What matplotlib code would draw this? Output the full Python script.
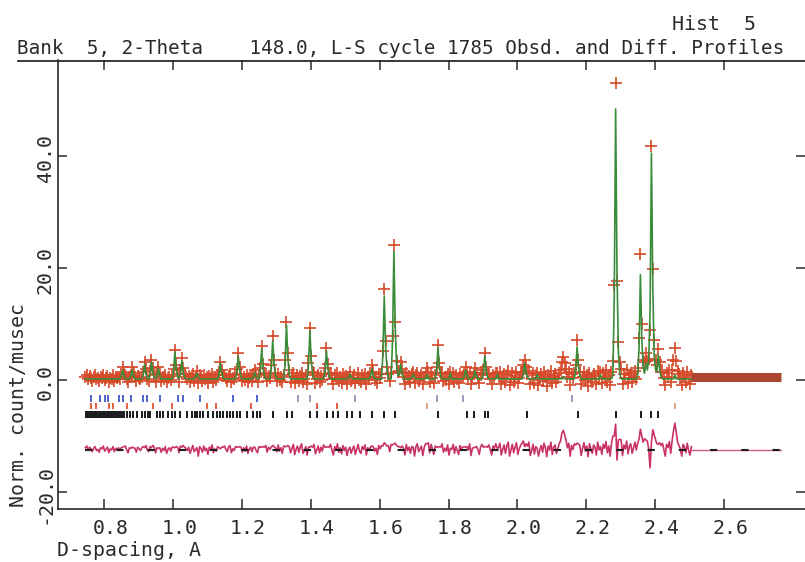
import numpy as np
import matplotlib
matplotlib.use("Agg")
import matplotlib.pyplot as plt
import matplotlib.transforms as mtransforms
from matplotlib.lines import Line2D

# ---------------- data ----------------
D_START = 0.745      # first observed point (d-spacing, A)
D_STEP = 0.004       # spacing of the observed points

# observed background points (Norm. count/musec), 0.1 A per row
obs_counts = [
    0.6, 0.9, 0.2, 0.7, 0.4, -0.1, 0.5, 0.8, 0.1, 0.3, -0.2, 0.6, 0.4, 0.9, 0.0, 0.3, 0.7, -0.3, 0.4, 0.2, 0.8, -0.1, 0.5, 0.3, 0.6,
    0.1, 0.7, -0.2, 0.4, 0.9, 0.2, -0.3, 0.6, 0.3, 0.8, 0.0, 0.5, -0.2, 0.7, 0.4, 0.1, 0.6, -0.4, 0.3, 0.8, 0.2, -0.1, 0.5, 0.9, 0.0,
    0.4, -0.3, 0.7, 0.2, 0.9, -0.2, 0.5, 0.1, 0.8, -0.4, 0.3, 0.6, 0.0, 0.7, -0.1, 0.4, 1.0, 0.2, -0.3, 0.6, 0.3, 0.9, -0.2, 0.5, 0.1,
    0.7, -0.4, 0.3, 1.0, -0.1, 0.6, 0.2, -0.5, 0.8, 0.4, -0.2, 0.9, 0.1, 0.5, -0.6, 0.7, 0.3, 1.1, -0.3, 0.4, 0.0, 0.8, -0.4, 0.6, 0.2,
    -0.5, 0.9, 0.3, -0.1, 0.7, 1.0, -0.3, 0.4, 0.1, 0.8, -0.6, 0.5, 0.2, 1.1, -0.2, 0.6, 0.0, 0.9, -0.4, 0.3, 0.7, -0.1, 1.0, 0.2, 0.5,
    -0.3, 0.8, 0.1, 0.6, -0.5, 0.4, 1.0, -0.2, 0.7, 0.3, -0.6, 0.9, 0.2, 0.5, -0.1, 1.1, 0.0, 0.6, -0.4, 0.8, 0.3, -0.2, 0.7, 1.0, -0.3,
    0.5, 1.2, -0.6, 0.3, 0.9, -0.2, 0.7, 1.3, -0.4, 0.1, 0.8, -0.7, 0.6, 1.0, -0.1, 0.4, 1.2, -0.5, 0.2, 0.9, -0.3, 0.7, 0.0, 1.1, -0.6,
    0.4, 0.9, -0.4, 1.2, 0.2, -0.7, 0.8, 0.3, 1.3, -0.2, 0.6, -0.5, 1.0, 0.1, 0.7, -0.8, 0.5, 1.1, -0.1, 0.4, 0.9, -0.6, 0.3, 1.2, 0.0,
    -0.4, 0.8, 0.3, 1.1, -0.7, 0.6, 0.2, 1.3, -0.3, 0.9, 0.0, 0.5, -0.6, 1.0, 0.4, -0.2, 1.2, 0.7, -0.5, 0.3, 1.0, -0.1, 0.6, 1.2, 0.0,
    0.8, -0.5, 1.1, 0.3, -0.2, 0.9, 0.5, -0.7, 1.2, 0.1, 0.7, -0.4, 1.0, 0.2, -0.6, 0.8, 1.3, -0.1, 0.4, 0.9, -0.8, 0.6, 1.1, 0.0, 0.5,
    -0.3, 1.2, 0.4, -0.6, 0.9, 0.2, 1.0, -0.5, 0.7, 1.3, -0.2, 0.5, 0.0, 1.1, -0.7, 0.6, 0.3, 1.2, -0.4, 0.8, 0.1, -0.6, 1.0, 0.4, 0.7,
    1.1, -0.4, 0.6, 0.2, 1.3, -0.8, 0.5, 0.9, -0.2, 1.0, 0.3, -0.6, 0.8, 1.2, -0.1, 0.4, 0.7, -0.5, 1.1, 0.2, -0.7, 0.9, 0.5, 1.3, -0.3,
    0.6, 1.4, -0.7, 0.3, 1.1, -0.4, 0.9, 1.6, -0.9, 0.2, 1.2, -0.3, 0.7, 1.5, -0.6, 0.4, 1.0, -1.0, 0.8, 1.3, -0.2, 0.5, 1.6, -0.8, 0.1,
    1.2, -0.5, 0.8, 1.5, -0.9, 0.3, 1.0, -0.2, 1.4, 0.6, -1.0, 0.9, 0.2, 1.6, -0.6, 0.7, 1.1, -0.4, 0.4, 1.3, -0.8, 0.9, 0.1, 1.5, -0.3,
    0.6, 1.4, -0.9, 1.0, 0.3, -0.5, 1.6, 0.8, -0.2, 1.2, -0.8, 0.5, 1.5, 0.0, 0.9, -1.0, 1.3, 0.4, -0.4, 1.1, 0.7, -0.7, 1.6, 0.2, 0.8,
    -0.6, 1.2, 0.5, 1.7, -0.3, 0.9, -0.9, 1.4, 0.6, 1.0, 0.3, 1.2, -0.2, 1.5, 0.7, -0.8, 1.1, 0.4, 1.8, -0.5, 0.9, 1.3, -0.4, 0.6, 1.6,
    0.2, -0.7, 1.4, 0.8, 0.1, 1.2, -0.6, 1.0, 1.6, -0.2, 0.7, 1.3, 0.0, 0.9, -0.8, 1.5, 0.4, 1.1, -0.5, 1.4, 0.3, -0.9, 1.2, 0.6, 1.7,
    -0.4, 0.9, 1.3, 0.2, 1.5, -0.6, 1.0, 0.4, -0.9, 1.2, 0.7, -0.3, 1.4, 0.1, -0.7, 0.8,
]

# observed points on the Bragg peaks (d, value)
obs_peak_d = [
    0.849, 0.853, 0.857, 0.877, 0.881, 0.885, 0.913, 0.917, 0.921,
    0.933, 0.937, 0.941, 0.945, 0.953, 0.957, 0.961,
    1.001, 1.005, 1.009, 1.013, 1.021, 1.025, 1.029, 1.033, 1.069,
    1.133, 1.137, 1.141, 1.145, 1.185, 1.189, 1.193, 1.197, 1.237,
    1.253, 1.257, 1.261, 1.265, 1.285, 1.289, 1.293, 1.297,
    1.321, 1.325, 1.329, 1.333, 1.337, 1.393, 1.397, 1.401, 1.405,
    1.441, 1.445, 1.449, 1.453, 1.513, 1.573, 1.577, 1.581,
    1.605, 1.609, 1.613, 1.617, 1.621, 1.633, 1.637, 1.641, 1.645, 1.649, 1.653,
    1.657, 1.661, 1.665, 1.697, 1.733, 1.737, 1.741,
    1.765, 1.769, 1.773, 1.777, 1.805, 1.845, 1.849, 1.853, 1.873, 1.877, 1.881,
    1.901, 1.905, 1.909, 1.913, 1.941,
    2.013, 2.017, 2.021, 2.025, 2.029, 2.057,
    2.125, 2.129, 2.133, 2.137, 2.141, 2.165, 2.169, 2.173, 2.177, 2.181, 2.241,
    2.273, 2.277, 2.281, 2.285, 2.289, 2.293, 2.297, 2.301,
    2.349, 2.353, 2.357, 2.361, 2.365, 2.369, 2.373,
    2.377, 2.381, 2.385, 2.389, 2.393, 2.397, 2.401,
    2.405, 2.409, 2.413, 2.417, 2.449, 2.453, 2.457, 2.461, 2.465,
]
obs_peak_v = [
    1.0, 2.3, 1.4, 0.9, 2.3, 1.2, 1.5, 3.2, 2.0,
    1.6, 3.6, 2.2, 0.9, 1.1, 2.3, 1.3,
    2.0, 5.4, 2.6, 1.1, 1.8, 3.9, 2.2, 1.0, 1.6,
    1.4, 3.2, 1.8, 0.9, 1.9, 4.8, 2.4, 1.1, 1.8,
    2.1, 6.0, 2.9, 1.2, 2.6, 7.8, 3.5, 1.3,
    0.9, 3.5, 10.4, 4.8, 1.7, 3.1, 9.3, 4.3, 1.5,
    2.1, 5.7, 2.8, 1.1, 1.5, 1.2, 2.7, 1.5,
    1.0, 5.2, 16.3, 7.0, 2.4, 1.2, 7.8, 24.1, 10.4, 3.4, 1.4,
    1.6, 3.2, 1.9, 1.5, 1.3, 2.1, 1.5,
    2.3, 6.3, 3.0, 1.2, 1.5, 1.2, 2.3, 1.4, 1.0, 2.1, 1.3,
    1.8, 4.8, 2.4, 1.0, 1.3,
    1.4, 2.6, 3.6, 2.4, 1.2, 1.3,
    1.8, 3.2, 4.1, 3.0, 1.9, 1.3, 2.7, 7.1, 3.6, 1.5, 1.5,
    1.4, 3.4, 17.0, 53.0, 17.6, 6.8, 3.2, 2.0,
    2.2, 7.5, 22.5, 10.0, 3.6, 3.2, 4.8,
    3.4, 3.8, 9.0, 41.8, 19.8, 7.2, 3.6,
    2.6, 5.5, 3.2, 1.4, 1.8, 3.6, 5.7, 3.4, 1.6,
]

# calculated profile: flat background plus peak points (d, value)
calc_background = 0.2
calc_peak_d = [
    0.849, 0.853, 0.857, 0.877, 0.881, 0.885, 0.913, 0.917, 0.921,
    0.933, 0.937, 0.941, 0.945, 0.953, 0.957, 0.961,
    1.001, 1.005, 1.009, 1.013, 1.021, 1.025, 1.029, 1.033,
    1.065, 1.069, 1.073, 1.133, 1.137, 1.141, 1.145,
    1.185, 1.189, 1.193, 1.197, 1.233, 1.237, 1.241,
    1.253, 1.257, 1.261, 1.265, 1.285, 1.289, 1.293, 1.297,
    1.325, 1.329, 1.333, 1.337, 1.393, 1.397, 1.401, 1.405,
    1.441, 1.445, 1.449, 1.453, 1.509, 1.513, 1.517, 1.573, 1.577, 1.581,
    1.609, 1.613, 1.617, 1.621, 1.637, 1.641, 1.645, 1.649, 1.653,
    1.657, 1.661, 1.665, 1.693, 1.697, 1.701, 1.737,
    1.765, 1.769, 1.773, 1.777, 1.805, 1.845, 1.849, 1.853, 1.873, 1.877, 1.881,
    1.901, 1.905, 1.909, 1.913, 1.941,
    2.017, 2.021, 2.025, 2.029, 2.057, 2.133,
    2.169, 2.173, 2.177, 2.181, 2.241,
    2.277, 2.281, 2.285, 2.289, 2.293, 2.297,
    2.349, 2.353, 2.357, 2.361, 2.365, 2.369, 2.373,
    2.377, 2.381, 2.385, 2.389, 2.393, 2.397, 2.401,
    2.405, 2.409, 2.413, 2.417, 2.457,
]
calc_peak_v = [
    0.6, 1.8, 0.8, 0.6, 1.8, 0.8, 0.9, 2.8, 1.2,
    1.0, 3.2, 1.4, 0.4, 0.7, 2.0, 0.9,
    1.5, 5.0, 2.0, 0.6, 1.1, 3.4, 1.4, 0.5,
    0.5, 1.2, 0.6, 1.0, 3.0, 1.3, 0.4,
    1.4, 4.3, 1.8, 0.6, 0.5, 1.3, 0.6,
    1.6, 5.5, 2.3, 0.7, 2.1, 7.0, 2.9, 0.9,
    2.9, 9.8, 4.0, 1.1, 2.6, 8.8, 3.6, 1.0,
    1.6, 5.2, 2.2, 0.6, 0.4, 1.0, 0.5, 0.7, 2.0, 0.9,
    4.5, 15.0, 6.0, 1.7, 6.9, 23.0, 9.2, 2.6, 0.8,
    1.0, 2.8, 1.2, 0.4, 1.0, 0.5, 1.0,
    1.8, 5.8, 2.4, 0.7, 1.2, 0.6, 1.8, 0.8, 0.6, 1.6, 0.7,
    1.3, 4.2, 1.8, 0.5, 1.0,
    1.0, 3.0, 1.3, 0.5, 1.0, 0.6,
    1.8, 5.9, 2.5, 0.7, 0.9,
    0.9, 14.5, 48.4, 19.4, 5.0, 1.3,
    1.0, 5.6, 18.8, 7.5, 2.2, 1.2, 3.0,
    1.8, 3.6, 12.2, 40.5, 16.2, 4.5, 1.8,
    1.5, 4.5, 1.9, 0.6, 0.9,
]

# excluded high-d region (drawn as a smooth band) and difference offset
excluded_d = [2.505, 2.765]
excluded_v = [0.45, 0.45]
diff_offset = -12.5

# reflection markers of the three phases (d-spacing)
phase_blue_d = [0.760, 0.788, 0.802, 0.811, 0.843, 0.854, 0.878, 0.912, 0.924, 0.962,
                1.014, 1.029, 1.078, 1.174, 1.243]
phase_blue_faint_d = [1.362, 1.397, 1.528, 1.766, 1.842, 2.158]
phase_red_d = [0.760, 0.776, 0.814, 0.825, 0.866, 0.941, 0.997, 1.098, 1.124, 1.226,
               1.418, 1.476]
phase_red_faint_d = [1.737, 2.457]
phase_black_d = [0.747, 0.751, 0.754, 0.758, 0.762, 0.765, 0.769, 0.773, 0.776, 0.780,
                 0.784, 0.788, 0.791, 0.795, 0.799, 0.803, 0.807, 0.811, 0.815, 0.819,
                 0.823, 0.828, 0.832, 0.837, 0.841, 0.846, 0.851, 0.856,
                 0.865, 0.875, 0.884, 0.894, 0.909, 0.918, 0.928, 0.933, 0.952, 0.962,
                 0.971, 0.986, 0.996, 1.005, 1.020, 1.039, 1.054, 1.063, 1.068, 1.078,
                 1.088, 1.102, 1.117, 1.126, 1.136, 1.146, 1.155, 1.165, 1.175, 1.185,
                 1.194, 1.214, 1.233, 1.243, 1.252, 1.291, 1.330, 1.344, 1.397, 1.417,
                 1.446, 1.465, 1.480, 1.504, 1.519, 1.543, 1.577, 1.613, 1.643, 1.770,
                 1.853, 1.874, 1.906, 1.914, 2.028, 2.176, 2.286, 2.359, 2.389, 2.408]

x_ticks = [0.8, 1.0, 1.2, 1.4, 1.6, 1.8, 2.0, 2.2, 2.4, 2.6]
x_tick_labels = ["0.8", "1.0", "1.2", "1.4", "1.6", "1.8", "2.0", "2.2", "2.4", "2.6"]
y_ticks = [40.0, 20.0, 0.0, -20.0]
y_tick_labels = ["40.0", "20.0", "0.0", "-20.0"]

title_text = "Bank  5, 2-Theta    148.0, L-S cycle 1785 Obsd. and Diff. Profiles"
hist_text = "Hist  5"
xlabel_text = "D-spacing, A"
ylabel_text = "Norm. count/musec"

# ---------------- figure ----------------
W, H = 805, 562
fig = plt.figure(figsize=(W / 100, H / 100), dpi=100)
fig.patch.set_facecolor("white")
INK = "#2a2a2a"
FONT = "DejaVu Sans Mono"
FS = 14.3


def fx(x):
    return x / W


def fy(y):
    return 1 - y / H


ax = fig.add_axes([fx(58), fy(509), fx(805) - fx(58), fy(60) - fy(509)])
ax.set_xlim(0.6655, 2.835)
ax.set_ylim(-23.04, 57.14)
ax.set_facecolor("none")

n = len(obs_counts)
d = D_START + D_STEP * np.arange(n)


def grid_index(vals):
    return np.rint((np.asarray(vals) - D_START) / D_STEP).astype(int)


obs = np.array(obs_counts, dtype=float)
obs[grid_index(obs_peak_d)] = obs_peak_v
calc = np.full(n, calc_background)
calc[grid_index(calc_peak_d)] = calc_peak_v
diff = obs - calc + diff_offset

# observed points
ax.plot(d, obs, linestyle="none", marker="+", ms=8, mew=1.2,
        color="#d6492a", zorder=2)
# excluded region
ax.plot(excluded_d, excluded_v, color="#ad4630", lw=6.5,
        solid_capstyle="butt", zorder=2)
# calculated profile
ax.plot(d, calc, color="#3a8c3a", lw=1.2, zorder=3)

# difference curve
ax.plot(d, diff, color="#c93369", lw=1.2, zorder=2)
ax.plot(excluded_d, [diff_offset, diff_offset], color="#d05c86", lw=1.0, zorder=2)
ax.plot([D_START, excluded_d[1]], [diff_offset, diff_offset], color="#1e1e1e",
        lw=1.5, dashes=(3.5, 11.5), zorder=3)

# reflection markers
ax.vlines(phase_blue_d, -3.9, -2.7, color="#4058c8", lw=1.3, zorder=3)
ax.vlines(phase_blue_faint_d, -3.9, -2.7, color="#8d94b5", lw=1.3, zorder=3)
ax.vlines(phase_red_d, -5.2, -4.1, color="#e4532f", lw=1.3, zorder=3)
ax.vlines(phase_red_faint_d, -5.2, -4.1, color="#e39a80", lw=1.3, zorder=3)
ax.vlines(phase_black_d, -6.8, -5.5, color="#1a1a1a", lw=1.4, zorder=3)

# axes styling
for side in ("top", "right"):
    ax.spines[side].set_visible(False)
for side in ("left", "bottom"):
    ax.spines[side].set_linewidth(1.2)
    ax.spines[side].set_color(INK)

ax.set_xticks(x_ticks)
ax.set_xticklabels(x_tick_labels, fontsize=FS, family=FONT, color=INK)
ax.tick_params(axis="x", direction="in", length=7.5, width=1.1, colors=INK,
               top=True, bottom=True, pad=7)
off = mtransforms.ScaledTranslation(0.06, 0, fig.dpi_scale_trans)
for lbl in ax.get_xticklabels():
    lbl.set_transform(lbl.get_transform() + off)

ax.set_yticks(y_ticks)
ax.set_yticklabels([])
ax.tick_params(axis="y", direction="in", length=6.5, width=1.1, colors=INK,
               left=True, right=True, labelleft=False)

ytr = mtransforms.blended_transform_factory(fig.transFigure, ax.transData) + \
    mtransforms.ScaledTranslation(0, -0.02, fig.dpi_scale_trans)
for v, s in zip(y_ticks, y_tick_labels):
    ax.text(fx(45), v, s, transform=ytr, rotation=90, ha="center", va="center",
            fontsize=FS, family=FONT, color=INK, clip_on=False)

# title block
fig.add_artist(Line2D([fx(18), 1.0], [fy(60.5), fy(60.5)], lw=1.3, color=INK))
t_title = fig.text(fx(17), fy(54), title_text, fontsize=FS, family=FONT,
                   color=INK, ha="left", va="baseline")
fig.text(fx(672), fy(30), hist_text, fontsize=FS, family=FONT,
         color=INK, ha="left", va="baseline")
fig.text(fx(57), fy(556.5), xlabel_text, fontsize=FS, family=FONT,
         color=INK, ha="left", va="baseline")
fig.text(fx(19), fy(507), ylabel_text, fontsize=FS, family=FONT,
         color=INK, rotation=90, ha="center", va="bottom")

renderer = fig.canvas.get_renderer()


def fit_width(t, target):
    w = t.get_window_extent(renderer).width
    t.set_fontsize(t.get_fontsize() * target / w)


fit_width(t_title, 768)

fig.savefig("out.png", dpi=100, facecolor="white")
